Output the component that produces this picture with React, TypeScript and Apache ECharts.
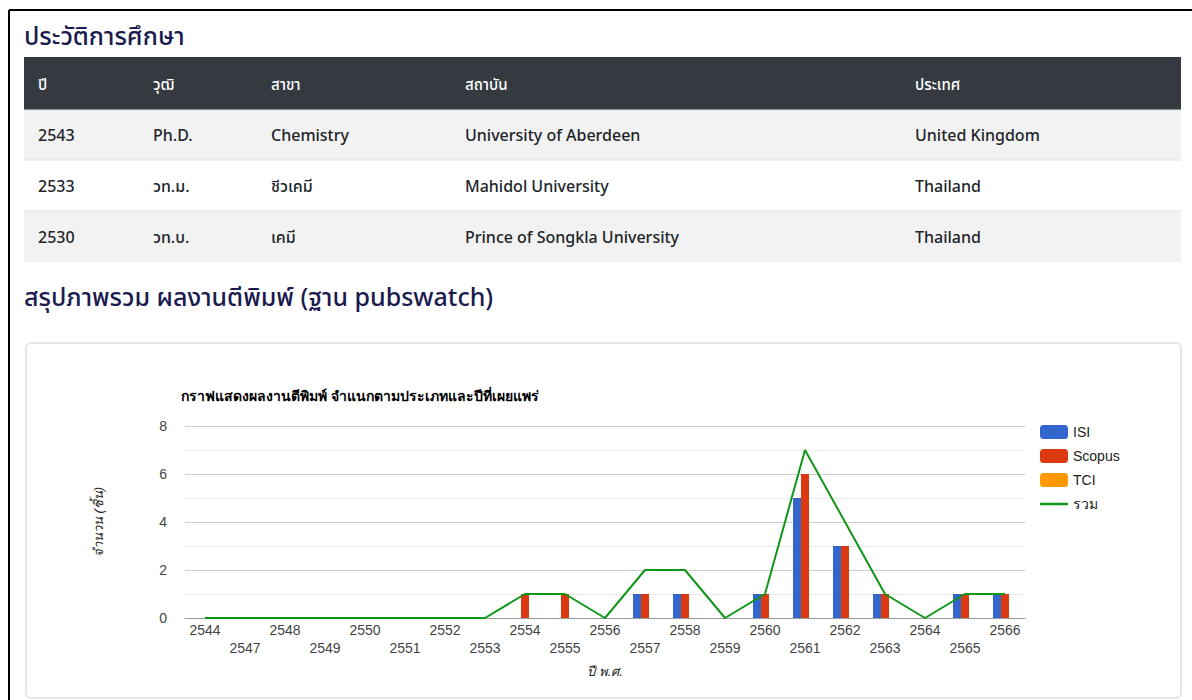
import React, { useEffect, useRef } from "react";
import * as echarts from "echarts";

const years = ["2544","2547","2548","2549","2550","2551","2552","2553","2554","2555","2556","2557","2558","2559","2560","2561","2562","2563","2564","2565","2566"];
const isi =    [0,0,0,0,0,0,0,0,0,0,0,1,1,0,1,5,3,1,0,1,1];
const scopus = [0,0,0,0,0,0,0,0,1,1,0,1,1,0,1,6,3,1,0,1,1];
const tci =    [0,0,0,0,0,0,0,0,0,0,0,0,0,0,0,0,0,0,0,0,0];
const total =  [0,0,0,0,0,0,0,0,1,1,0,2,2,0,1,7,4,1,0,1,1];
const seriesNames = ["ISI", "Scopus", "TCI", "รวม"];

const tableHeaders = ["ปี", "วุฒิ", "สาขา", "สถาบัน", "ประเทศ"];
const tableRows = [
  ["2543", "Ph.D.", "Chemistry", "University of Aberdeen", "United Kingdom"],
  ["2533", "วท.ม.", "ชีวเคมี", "Mahidol University", "Thailand"],
  ["2530", "วท.บ.", "เคมี", "Prince of Songkla University", "Thailand"],
];

const chartTitle = "กราฟแสดงผลงานตีพิมพ์ จำแนกตามประเภทและปีที่เผยแพร่";
const heading1 = "ประวัติการศึกษา";
const heading2 = "สรุปภาพรวม ผลงานตีพิมพ์ (ฐาน pubswatch)";

const PAGE_FONT = "'Noto Sans', 'Noto Sans Thai', sans-serif";
const CHART_FONT = "Arial, 'Liberation Sans', sans-serif";

export default function App() {
  const ref = useRef<HTMLDivElement>(null);
  useEffect(() => {
    if (!ref.current) return;
    const chart = echarts.init(ref.current, undefined, { renderer: "svg" });
    const colX = [38, 153, 271, 465, 915];
    const rowTop = [110, 160, 211];
    const rowH = [50, 51, 51];
    const graphics: any[] = [];
    // page frame
    graphics.push({ type: "line", shape: { x1: 9, y1: 10, x2: 1192, y2: 10 }, style: { stroke: "#000", lineWidth: 2 } });
    graphics.push({ type: "line", shape: { x1: 9, y1: 10, x2: 9, y2: 700 }, style: { stroke: "#000", lineWidth: 2 } });
    // heading 1
    graphics.push({ type: "text", x: 24, y: 35, style: { text: heading1, font: `500 25px ${PAGE_FONT}`, fill: "#1b1b4f", verticalAlign: "middle" } });
    // table header
    graphics.push({ type: "rect", shape: { x: 24, y: 57, width: 1157, height: 53 }, style: { fill: "#343a40" } });
    tableHeaders.forEach((h, i) => {
      graphics.push({ type: "text", x: colX[i], y: 84, style: { text: h, font: `500 15px ${PAGE_FONT}`, fill: "#ffffff", verticalAlign: "middle" } });
    });
    tableRows.forEach((row, r) => {
      graphics.push({ type: "rect", shape: { x: 24, y: rowTop[r], width: 1157, height: rowH[r] }, style: { fill: r % 2 === 0 ? "#f2f2f2" : "#ffffff" } });
      graphics.push({ type: "line", shape: { x1: 24, y1: rowTop[r], x2: 1181, y2: rowTop[r] }, style: { stroke: "#dee2e6", lineWidth: 1 } });
      row.forEach((cell, c) => {
        graphics.push({ type: "text", x: colX[c], y: rowTop[r] + rowH[r] / 2, style: { text: cell, font: `500 16px ${PAGE_FONT}`, fill: "#212529", verticalAlign: "middle" } });
      });
    });
    // heading 2
    graphics.push({ type: "text", x: 24, y: 296, style: { text: heading2, font: `500 25px ${PAGE_FONT}`, fill: "#1b1b4f", verticalAlign: "middle" } });
    // card
    graphics.push({ type: "rect", z: -10, shape: { x: 26, y: 343, width: 1155, height: 355, r: 5 }, style: { fill: "#ffffff", stroke: "#e6e6e6", lineWidth: 2 } });

    chart.setOption({
      animation: false,
      textStyle: { fontFamily: CHART_FONT },
      graphic: graphics,
      title: {
        text: chartTitle,
        left: 176,
        top: 384,
        textStyle: { fontSize: 14, fontWeight: "bold", color: "#000", fontFamily: CHART_FONT },
      },
      legend: {
        data: [
          { name: "ISI" },
          { name: "Scopus" },
          { name: "TCI" },
          { name: "รวม", icon: "path://M0,0 L28,0 L28,2.5 L0,2.5 Z" },
        ],
        orient: "vertical",
        left: 1035,
        top: 420,
        itemWidth: 28,
        itemHeight: 14,
        itemGap: 10,
        textStyle: { fontSize: 14, color: "#222", fontFamily: CHART_FONT },
      },
      grid: { left: 185, right: 167, top: 426, bottom: 82, containLabel: false },
      xAxis: {
        type: "category",
        data: years,
        name: "ปี พ.ศ.",
        nameLocation: "middle",
        nameGap: 47,
        nameTextStyle: { fontStyle: "italic", fontSize: 13, color: "#222", fontFamily: CHART_FONT },
        axisTick: { show: false },
        axisLine: { lineStyle: { color: "#999", width: 1 } },
        axisLabel: {
          interval: 0,
          fontSize: 14,
          color: "#444",
          margin: 3,
          lineHeight: 18,
          formatter: (v: string, i: number) => (i % 2 === 1 ? "\n" + v : v),
        },
      },
      yAxis: {
        type: "value",
        min: 0,
        max: 8,
        interval: 1,
        name: "จำนวน (ชิ้น)",
        nameLocation: "middle",
        nameGap: 80,
        nameTextStyle: { fontStyle: "italic", fontSize: 13, color: "#222", fontFamily: CHART_FONT },
        axisLine: { show: false },
        axisTick: { show: false },
        axisLabel: {
          fontSize: 14,
          color: "#444",
          margin: 18,
          formatter: (v: number) => (v % 2 === 0 ? String(v) : ""),
        },
        splitLine: { lineStyle: { color: ["#cccccc", "#ebebeb"], width: 1 } },
      },
      series: [
        { name: "ISI", type: "bar", data: isi, barWidth: 8, barGap: "0%", itemStyle: { color: "#3366cc" } },
        { name: "Scopus", type: "bar", data: scopus, barWidth: 8, barGap: "0%", itemStyle: { color: "#dc3912" } },
        { name: "TCI", type: "bar", data: tci, barWidth: 8, barGap: "0%", itemStyle: { color: "#ff9900" } },
        { name: "รวม", type: "line", data: total, symbol: "none", lineStyle: { color: "#109618", width: 2 }, itemStyle: { color: "#109618" } },
      ],
    });
    return () => chart.dispose();
  }, []);
  return <div ref={ref} style={{ position: "absolute", left: 0, top: 0, width: 1192, height: 700 }} />;
}
